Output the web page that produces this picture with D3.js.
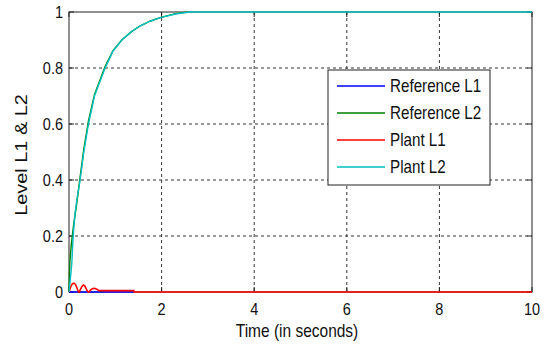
<!DOCTYPE html>
<html>
<head>
<meta charset="utf-8">
<script src="https://cdn.jsdelivr.net/npm/d3@7"></script>
<style>
  body { margin: 0; background: #fff; }
  svg text { font-family: "Liberation Sans", Arial, sans-serif; fill: #111; }
</style>
</head>
<body>
<svg id="chart" width="545" height="347"></svg>
<script>
// values
const xTicks = [0, 2, 4, 6, 8, 10];
const yTicks = [0, 0.2, 0.4, 0.6, 0.8, 1];

const refL1T = [0, 1.4];
const refL1V = [0, 0];

const refL2T = [0, 0.01, 0.02, 0.05, 0.1, 0.17, 0.24, 0.32, 0.42, 0.55, 0.78, 0.95, 1.14, 1.35, 1.53, 1.75, 1.97, 2.3, 2.56];
const refL2V = [0, 0.06, 0.11, 0.17, 0.24, 0.32, 0.41, 0.51, 0.61, 0.705, 0.805, 0.862, 0.9, 0.93, 0.95, 0.967, 0.98, 0.994, 1.0];

const plantL1T = [0, 0.03, 0.06, 0.09, 0.11, 0.14, 0.17, 0.2, 0.22, 0.25, 0.28, 0.31, 0.34, 0.37, 0.4, 0.43, 0.46, 0.5, 0.55, 0.6, 0.65, 1.4, 1.41, 10];
const plantL1V = [0, 0.015, 0.027, 0.031, 0.031, 0.027, 0.015, 0.002, 0, 0.01, 0.02, 0.025, 0.022, 0.012, 0.002, 0, 0.006, 0.012, 0.013, 0.01, 0.005, 0.005, 0, 0];

const plantL2T = [0, 0.03, 0.06, 0.09, 0.13, 0.18, 0.24, 0.32, 0.42, 0.55, 0.78, 0.95, 1.14, 1.35, 1.53, 1.75, 1.97, 2.3, 2.6, 10];
const plantL2V = [0, 0.05, 0.1, 0.2, 0.28, 0.34, 0.4, 0.5, 0.6, 0.7, 0.8, 0.86, 0.9, 0.93, 0.95, 0.967, 0.98, 0.993, 1, 1];

const seriesNames = ["Reference L1", "Reference L2", "Plant L1", "Plant L2"];
const seriesColors = ["#0000ff", "#008000", "#ff0000", "#00bfbf"];

const plotLeft = 69, plotRight = 532, plotTop = 12, plotBottom = 292;
const vStretch = 1.17;

const svg = d3.select("#chart");
const x = d3.scaleLinear().domain([0, 10]).range([plotLeft, plotRight]);
const y = d3.scaleLinear().domain([0, 1]).range([plotBottom, plotTop]);

// grid
const grid = svg.append("g").attr("stroke", "#333").attr("stroke-dasharray", "3,3").attr("stroke-width", 1);
xTicks.slice(1, -1).forEach(t => {
  grid.append("line").attr("x1", x(t)).attr("x2", x(t)).attr("y1", plotTop).attr("y2", plotBottom);
});
yTicks.slice(1, -1).forEach(t => {
  grid.append("line").attr("x1", plotLeft).attr("x2", plotRight).attr("y1", y(t)).attr("y2", y(t));
});

// box + inward ticks
svg.append("rect").attr("x", plotLeft).attr("y", plotTop).attr("width", plotRight - plotLeft).attr("height", plotBottom - plotTop)
  .attr("fill", "none").attr("stroke", "#222").attr("stroke-width", 1);
const tk = svg.append("g").attr("stroke", "#222");
xTicks.forEach(t => {
  tk.append("line").attr("x1", x(t)).attr("x2", x(t)).attr("y1", plotBottom).attr("y2", plotBottom - 5);
  tk.append("line").attr("x1", x(t)).attr("x2", x(t)).attr("y1", plotTop).attr("y2", plotTop + 5);
});
yTicks.forEach(t => {
  tk.append("line").attr("x1", plotLeft).attr("x2", plotLeft + 5).attr("y1", y(t)).attr("y2", y(t));
  tk.append("line").attr("x1", plotRight).attr("x2", plotRight - 5).attr("y1", y(t)).attr("y2", y(t));
});

// text with the slight vertical stretch seen in the picture
function label(tx, ty, str, size, anchor, extra) {
  const g = svg.append("g").attr("transform", `translate(${tx},${ty}) scale(1,${vStretch})${extra || ""}`);
  return g.append("text").text(str).attr("font-size", size).attr("text-anchor", anchor);
}
xTicks.forEach(t => label(x(t), 315, d3.format("")(t), 14.5, "middle"));
yTicks.forEach(t => label(63, y(t) + 5.5, d3.format("")(t), 14.5, "end"));

label(297, 337, "Time (in seconds)", 15.5, "middle");
label(27, 155, "Level L1 & L2", 17, "middle", " rotate(-90)");

// lines
const line = d3.line().x(d => x(d[0])).y(d => y(d[1]));
const series = [
  d3.zip(refL1T, refL1V),
  d3.zip(refL2T, refL2V),
  d3.zip(plantL1T, plantL1V),
  d3.zip(plantL2T, plantL2V)
];
series.forEach((s, i) => {
  svg.append("path").datum(s).attr("d", line).attr("fill", "none")
    .attr("stroke", seriesColors[i]).attr("stroke-width", i === 2 ? 1.6 : 1.4);
});

// legend
const lg = svg.append("g");
lg.append("rect").attr("x", 328).attr("y", 70).attr("width", 162).attr("height", 115)
  .attr("fill", "#fff").attr("stroke", "#222").attr("stroke-width", 1);
const rowY = [86, 113, 140, 167];
seriesNames.forEach((n, i) => {
  lg.append("line").attr("x1", 337).attr("x2", 385).attr("y1", rowY[i]).attr("y2", rowY[i])
    .attr("stroke", seriesColors[i]).attr("stroke-width", 1.4);
  label(390, rowY[i] + 5.5, n, 15.2, "start");
});
</script>
</body>
</html>
